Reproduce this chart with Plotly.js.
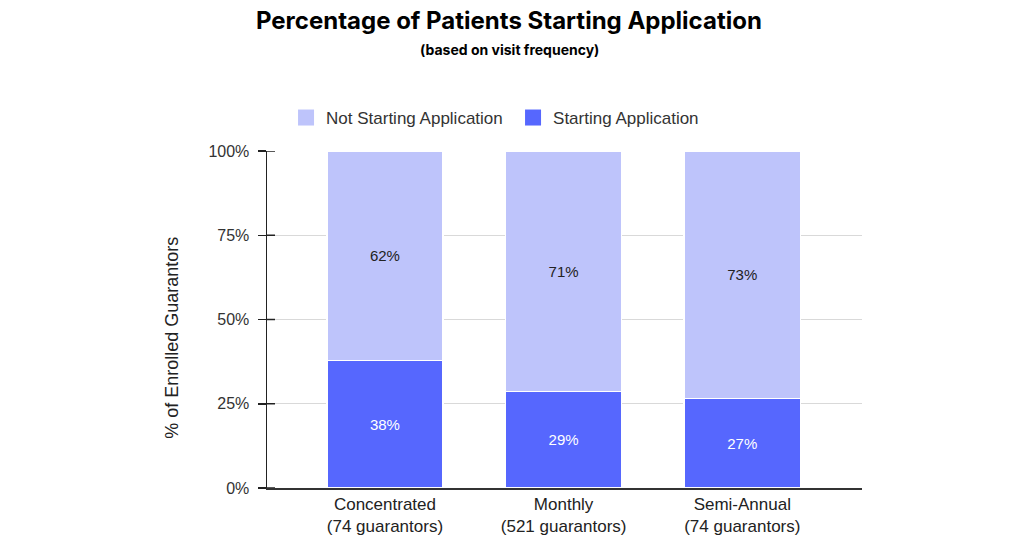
<!DOCTYPE html>
<html>
<head>
<meta charset="utf-8">
<script src="https://cdn.plot.ly/plotly-3.0.1.min.js"></script>
<style>html,body{margin:0;padding:0;background:#fff;}#chart{width:1024px;height:538px;}</style>
</head>
<body>
<div id="chart"></div>
<script>
const categories = ["Concentrated<br>(74 guarantors)", "Monthly<br>(521 guarantors)", "Semi-Annual<br>(74 guarantors)"];
const seriesNames = ["Not Starting Application", "Starting Application"];
const startingValues = [37.8, 28.6, 26.6];
const notStartingValues = [62.2, 71.4, 73.4];
const yTickValues = [0, 25, 50, 75, 100];
const yTickLabels = ["0%", "25%", "50%", "75%", "100%"];

const FONT = "Liberation Sans, Arial, sans-serif";
const LIGHT = "#bec4fb";
const DARK = "#5667fe";

const data = [
  {
    type: "bar", name: seriesNames[1], x: categories, y: startingValues, showlegend: false,
    marker: {color: DARK, line: {color: "#ffffff", width: 1.5}},
    texttemplate: "%{y:.0f}%", textposition: "inside", insidetextanchor: "middle",
    textfont: {family: FONT, size: 15, color: "#ffffff"}, hoverinfo: "skip"
  },
  {
    type: "bar", name: seriesNames[0], x: categories, y: notStartingValues, showlegend: false,
    marker: {color: LIGHT, line: {color: "#ffffff", width: 1.5}},
    texttemplate: "%{y:.0f}%", textposition: "inside", insidetextanchor: "middle",
    textfont: {family: FONT, size: 15, color: "#222222"}, hoverinfo: "skip"
  },
  {
    type: "scatter", mode: "markers", name: seriesNames[0], x: [categories[0]], y: [null],
    marker: {symbol: "square", size: 16, color: LIGHT}, hoverinfo: "skip"
  },
  {
    type: "scatter", mode: "markers", name: seriesNames[1], x: [categories[0]], y: [null],
    marker: {symbol: "square", size: 16, color: DARK}, hoverinfo: "skip"
  }
];

// short inner tick stubs crossing the y axis
const innerTicks = yTickValues.map(v => ({
  type: "line", xref: "paper", yref: "y", x0: 0, x1: 8 / 595, y0: v, y1: v,
  line: {color: "#222222", width: 1.5}, layer: "above"
}));

const layout = {
  width: 1024, height: 538,
  margin: {l: 267, r: 162, t: 151, b: 50},
  paper_bgcolor: "#ffffff", plot_bgcolor: "#ffffff",
  barmode: "stack", bargap: 0.35,
  font: {family: FONT, color: "#333333", size: 16},
  title: {
    text: "<b>Percentage of Patients Starting Application</b>",
    font: {family: "Inter, sans-serif", size: 24, color: "#000000"},
    x: 0.497, xanchor: "center", y: 0.962, yanchor: "middle"
  },
  showlegend: true,
  legend: {
    orientation: "h", x: 0.032, xanchor: "left", y: 1.098, yanchor: "middle",
    font: {family: FONT, size: 17, color: "#333333"}, traceorder: "normal",
    itemsizing: "trace", bgcolor: "rgba(0,0,0,0)",
    entrywidth: 182, entrywidthmode: "pixels"
  },
  xaxis: {
    type: "category", range: [-0.66, 2.67], fixedrange: true,
    showline: true, linecolor: "#333333", linewidth: 1.5,
    ticks: "", tickfont: {family: FONT, size: 17, color: "#222222"},
    showgrid: false
  },
  yaxis: {
    range: [0, 100], tickvals: yTickValues, ticktext: yTickLabels,
    showline: true, linecolor: "#222222", linewidth: 1.5,
    ticks: "outside", ticklen: 8, tickcolor: "#222222", tickwidth: 1.5,
    ticklabelstandoff: 5,
    tickfont: {family: FONT, size: 16, color: "#333333"},
    showgrid: true, gridcolor: "#d9d9d9", gridwidth: 1, zeroline: false
  },
  shapes: innerTicks,
  annotations: [
    {
      text: "<b>(based on visit frequency)</b>", xref: "paper", yref: "paper",
      x: 0.408, xanchor: "center", y: 1.30, yanchor: "middle", showarrow: false,
      font: {family: "Inter, sans-serif", size: 14, color: "#000000"}
    },
    {
      text: "% of Enrolled Guarantors", xref: "paper", yref: "paper",
      x: -0.16, xanchor: "center", y: 0.445, yanchor: "middle", showarrow: false,
      textangle: -90, font: {family: FONT, size: 18, color: "#222222"}
    }
  ]
};

Plotly.newPlot("chart", data, layout, {displayModeBar: false, staticPlot: true});
</script>
</body>
</html>
